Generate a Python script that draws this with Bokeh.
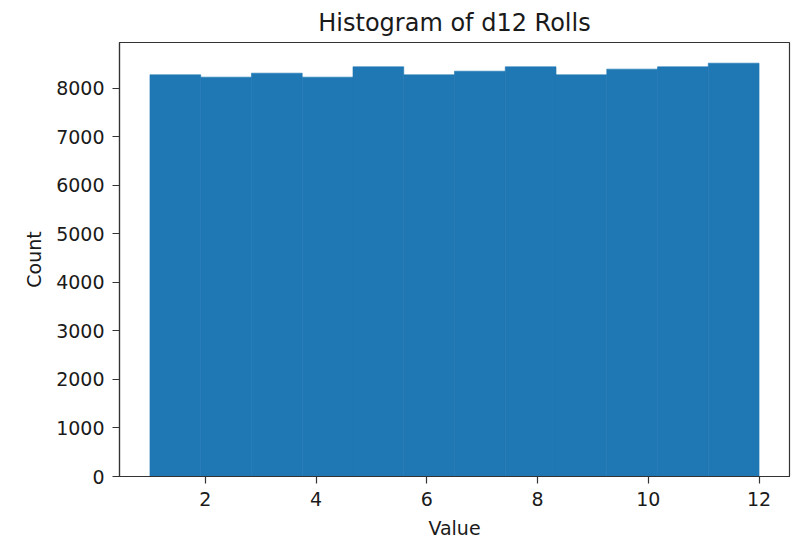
import numpy as np
from bokeh.plotting import figure
from bokeh.models import FixedTicker, Range1d
from bokeh.embed import file_html
from bokeh.resources import INLINE

# Data: histogram of d12 rolls (12 bins between min and max roll)
roll_min = 1
roll_max = 12
n_bins = 12
counts = [8275, 8227, 8309, 8227, 8440, 8275, 8350, 8440, 8275, 8392, 8440, 8515]
x_ticks = [2, 4, 6, 8, 10, 12]
y_ticks = [0, 1000, 2000, 3000, 4000, 5000, 6000, 7000, 8000]

edges = np.linspace(roll_min, roll_max, n_bins + 1)
span = roll_max - roll_min

FONT = "DejaVu Sans"

p = figure(
    frame_width=670, frame_height=434,
    output_backend="svg", toolbar_location=None,
    x_range=Range1d(roll_min - 0.05 * span, roll_max + 0.05 * span),
    y_range=Range1d(0, max(counts) * 1.05),
    title="Histogram of d12 Rolls",
    min_border_left=119, min_border_right=20,
    min_border_top=41, min_border_bottom=68,
)

p.quad(left=edges[:-1], right=edges[1:], bottom=0, top=counts,
       fill_color="#1f77b4", line_color="#1f77b4", line_width=0.6)

p.title.align = "center"
p.title.text_font = FONT
p.title.text_font_style = "normal"
p.title.text_font_size = "24px"
p.title.text_color = "#1a1a1a"
p.title.standoff = 12

p.xgrid.visible = False
p.ygrid.visible = False
p.outline_line_color = "#333333"
p.outline_line_width = 1.2
p.outline_line_alpha = 1.0

p.xaxis.ticker = FixedTicker(ticks=x_ticks)
p.yaxis.ticker = FixedTicker(ticks=y_ticks)
p.xaxis.axis_label = "Value"
p.yaxis.axis_label = "Count"

for ax in (p.xaxis[0], p.yaxis[0]):
    ax.axis_line_color = "#333333"
    ax.axis_line_width = 1.2
    ax.major_tick_line_color = "#333333"
    ax.major_tick_line_width = 1.2
    ax.major_tick_out = 7
    ax.major_tick_in = 0
    ax.minor_tick_line_color = None
    ax.major_label_text_font = FONT
    ax.major_label_text_font_size = "19px"
    ax.major_label_text_color = "#1a1a1a"
    ax.major_label_standoff = 8
    ax.axis_label_text_font = FONT
    ax.axis_label_text_font_size = "19px"
    ax.axis_label_text_font_style = "normal"
    ax.axis_label_text_color = "#1a1a1a"
    ax.axis_label_standoff = 8

p.yaxis.major_label_orientation = "horizontal"

open("out.html", "w").write(file_html(p, INLINE))
